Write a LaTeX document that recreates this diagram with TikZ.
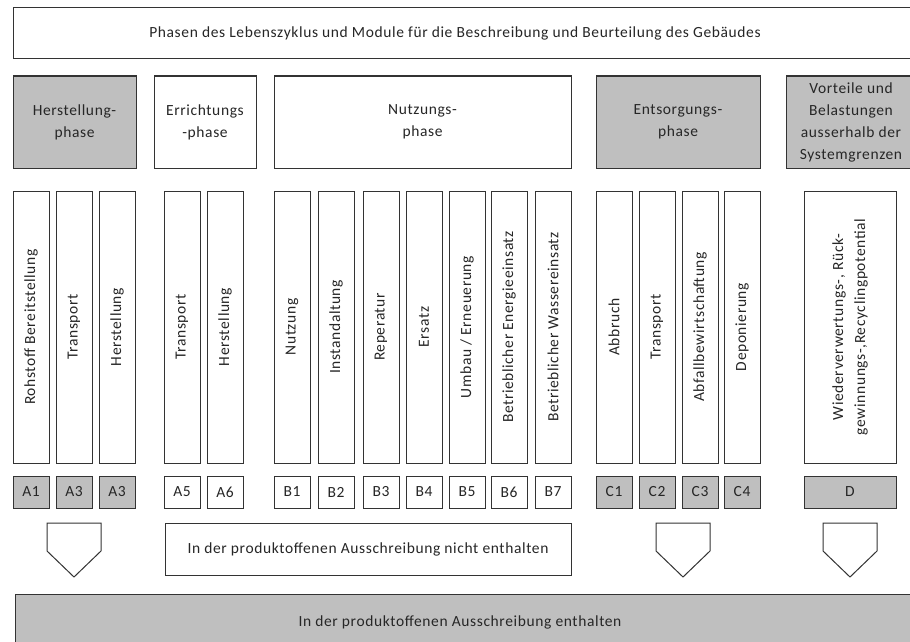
\documentclass[tikz,border=0pt]{standalone}
\usepackage{fontspec}
\setmainfont{Carlito}[LetterSpace=4]
\definecolor{gf}{HTML}{BFBFBF}
\definecolor{lc}{HTML}{333333}
\newcommand{\Bx}[7]{\node[#6, minimum width={(#4-#2)*1pt}, minimum height={(#5-#3)*1pt}] (#1) at ({(#2+#4)/2},{(#3+#5)/2}) {#7};}
\newcommand{\Col}[6]{%
  \node[wh, rotate=90, minimum width=272pt, minimum height=36pt] (#1) at ({#2+18},327) {#3};
  \node[#6, minimum width=36pt, minimum height=32pt] (#4) at ({#2+18},492) {#5};}
\newcommand{\Pent}[2]{%
  \coordinate (#1) at (#2,523);
  \draw[pent] ([xshift=-27pt]#1) -- ([xshift=27pt]#1) -- ([xshift=27pt,yshift=-28pt]#1) -- ([yshift=-54pt]#1) -- ([xshift=-27pt,yshift=-28pt]#1) -- cycle;}
\begin{document}
\begin{tikzpicture}[x=1pt,y=-1pt, font=\fontsize{15.5}{22}\selectfont,
  bx/.style={draw=lc, line width=1pt, inner sep=0pt, outer sep=0pt, align=center, text=black!85},
  gr/.style={bx, fill=gf},
  wh/.style={bx, fill=white},
  pent/.style={draw=lc, line width=1pt, fill=white},
  txt/.style={inner sep=0pt, text=black!85, align=center}]
\useasboundingbox (0,0) rectangle (910,642);
\clip (0,0) rectangle (910,642);
% top
\Bx{top}{13}{8}{915}{59}{wh}{}
\node[txt] (title) at (455,33) {Phasen des Lebenszyklus und Module für die Beschreibung und Beurteilung des Gebäudes};
% phases
\Bx{ph1}{13}{76}{136}{168}{gr}{Herstellung-\\phase}
\Bx{ph2}{154}{76}{256}{168}{wh}{Errichtungs\\-phase}
\Bx{ph3}{274}{76}{571}{168}{wh}{Nutzungs-\\phase}
\Bx{ph4}{596}{76}{760}{168}{gr}{Entsorgungs-\\phase}
\Bx{ph5}{786}{76}{916}{168}{gr}{Vorteile und\\Belastungen\\ausserhalb der\\Systemgrenzen}
% columns
\Col{c1}{13}{Rohstoff Bereitstellung}{m1}{A1}{gr}
\Col{c2}{56}{Transport}{m2}{A3}{gr}
\Col{c3}{99}{Herstellung}{m3}{A3}{gr}
\Col{c4}{164}{Transport}{m4}{A5}{wh}
\Col{c5}{207}{Herstellung}{m5}{A6}{wh}
\Col{c6}{274}{Nutzung}{m6}{B1}{wh}
\Col{c7}{318}{Instandaltung}{m7}{B2}{wh}
\Col{c8}{363}{Reperatur}{m8}{B3}{wh}
\Col{c9}{406}{Ersatz}{m9}{B4}{wh}
\Col{c10}{449}{Umbau / Erneuerung}{m10}{B5}{wh}
\Col{c11}{491}{Betrieblicher Energieeinsatz}{m11}{B6}{wh}
\Col{c12}{535}{Betrieblicher Wassereinsatz}{m12}{B7}{wh}
\Col{c13}{596}{Abbruch}{m13}{C1}{gr}
\Col{c14}{639}{Transport}{m14}{C2}{gr}
\Col{c15}{682}{Abfallbewirtschaftung}{m15}{C3}{gr}
\Col{c16}{724}{Deponierung}{m16}{C4}{gr}
\node[wh, rotate=90, minimum width=272pt, minimum height=92pt] (cD) at (850,327) {Wiederverwertungs-, Rück-\\gewinnungs-,Recyclingpotential};
\Bx{mD}{804}{476}{896}{508}{gr}{D}
% pentagons
\Pent{pA}{74}
\Pent{pC}{683}
\Pent{pD}{850}
\Bx{nicht}{165}{523}{571}{575}{wh}{In der produktoffenen Ausschreibung nicht enthalten}
% bottom
\Bx{bottom}{15}{594}{915}{660}{gr}{}
\node[txt] (btext) at (460,622) {In der produktoffenen Ausschreibung enthalten};
\end{tikzpicture}
\end{document}
